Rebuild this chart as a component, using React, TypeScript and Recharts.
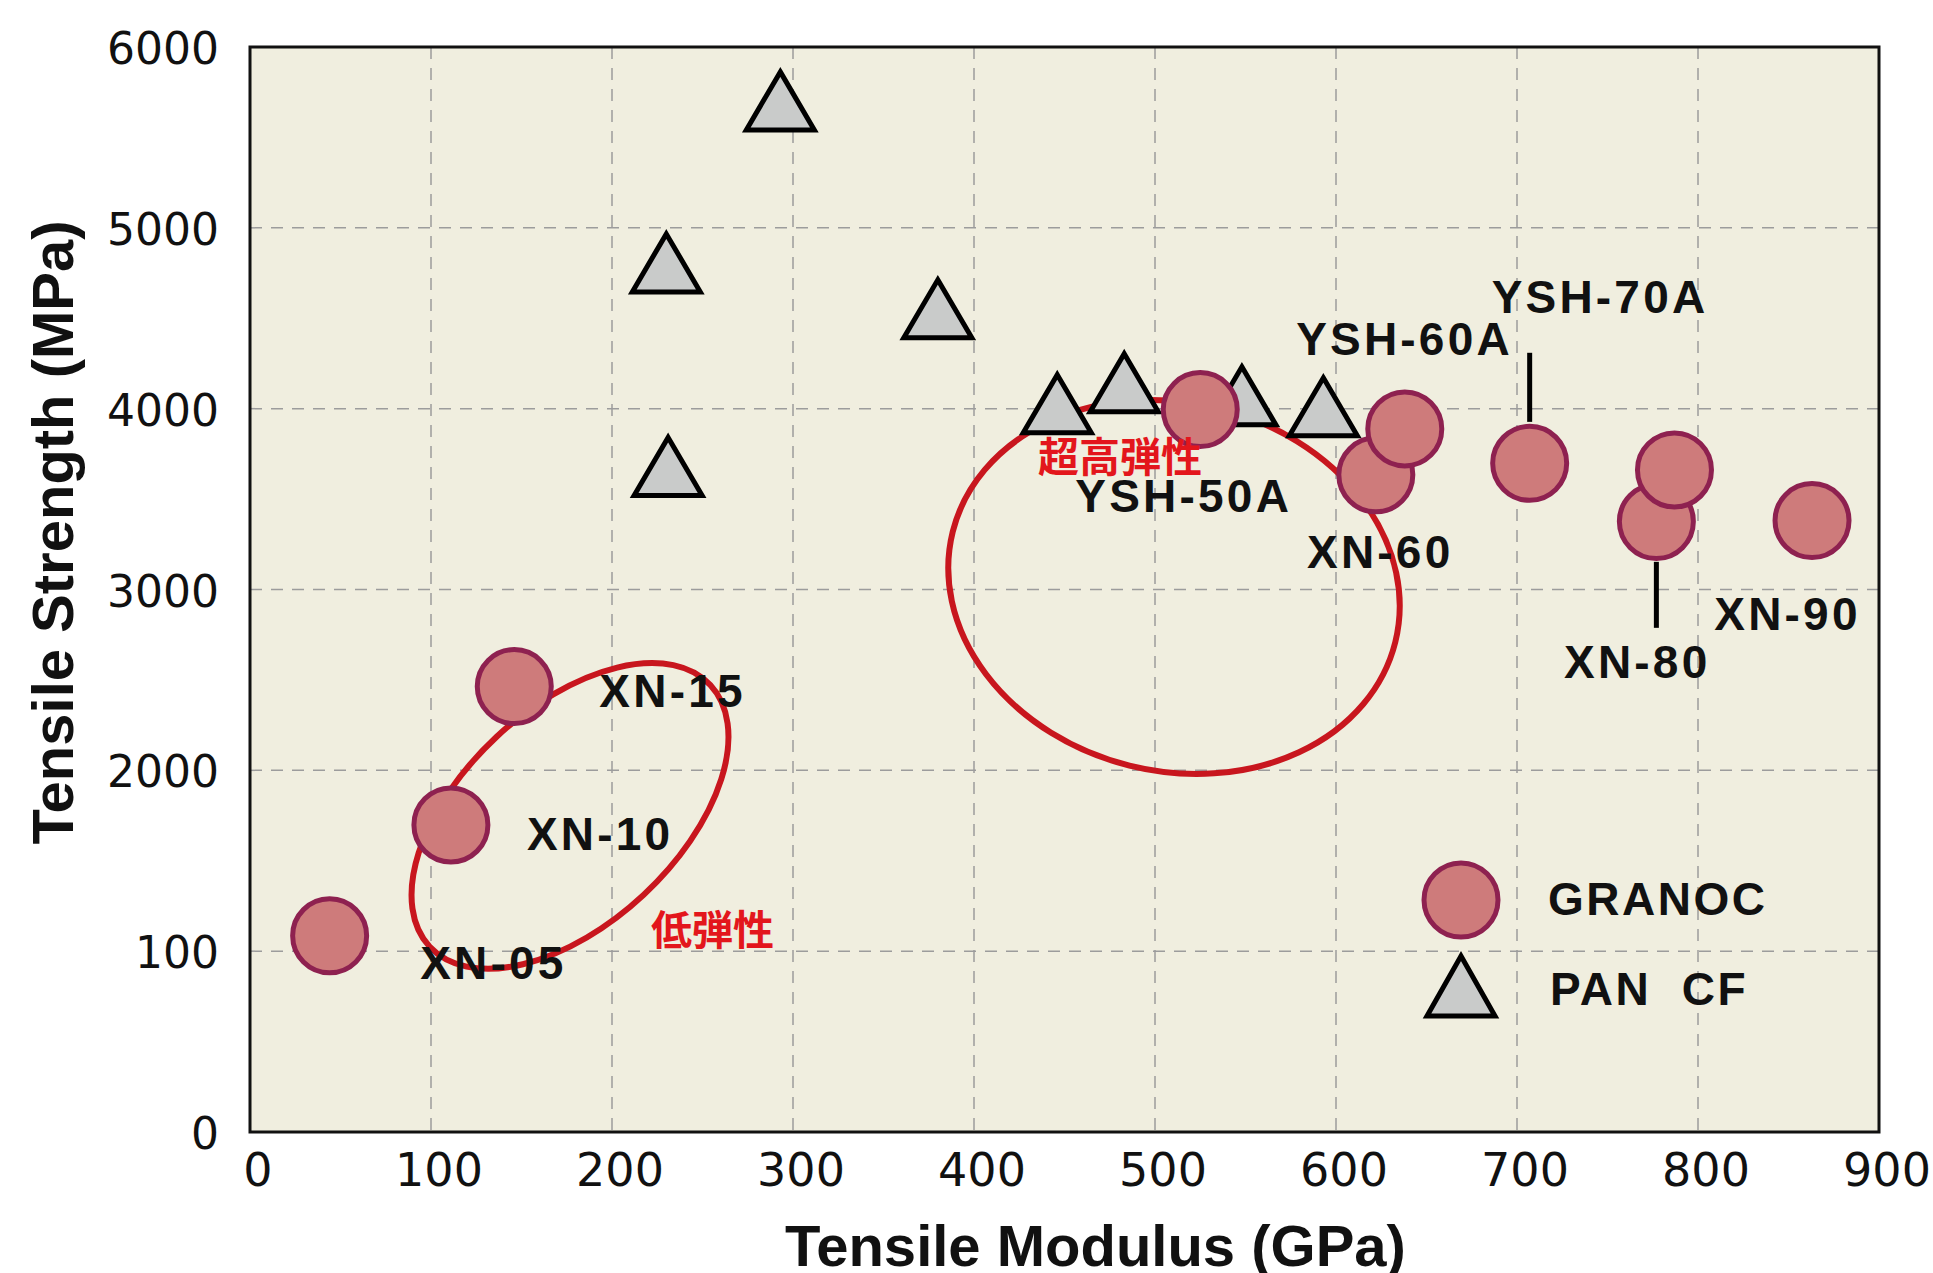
import React from "react";
import {
  CartesianGrid,
  Label,
  Legend,
  ReferenceArea,
  ReferenceLine,
  Scatter,
  ScatterChart,
  XAxis,
  YAxis
} from "recharts";

// GRANOC pitch fibres: tensile modulus (GPa) / tensile strength (MPa)
const granocModulus = [44, 111, 146, 525, 622, 638, 707, 777, 787, 863];
const granocStrength = [1085, 1698, 2463, 3995, 3634, 3888, 3698, 3376, 3661, 3381];

// PAN carbon fibres
const panModulus = [293, 230, 231, 380, 446, 483, 548, 593];
const panStrength = [5702, 4806, 3680, 4552, 4027, 4143, 4071, 4010];

const xTicks = [0, 100, 200, 300, 400, 500, 600, 700, 800, 900];
const yTicks = [0, 1000, 2000, 3000, 4000, 5000, 6000];
const yTickLabels = ["0", "100", "2000", "3000", "4000", "5000", "6000"];

// grade labels, anchored in data units (left / baseline)
const gradeNames = ["XN-05", "XN-10", "XN-15", "YSH-50A", "XN-60", "YSH-60A", "YSH-70A", "XN-80", "XN-90"];
const gradeLabelX = [94, 153, 193, 456, 584, 578, 686, 726, 809];
const gradeLabelY = [846, 1560, 2351, 3429, 3119, 4298, 4530, 2511, 2777];

const regionNames = ["低弾性", "超高弾性"];
const regionLabelX = [221.5, 435.4];
const regionLabelY = [1034, 3650];

// red rings round the two groups
const ringCenterX = [176.8, 510.5];
const ringCenterY = [1748, 3014];
const ringHalfX = [106, 126];
const ringHalfY = [597, 1018];
const ringTilt = [-43, 14];

// leader lines under/over labels
const leaderX = [707, 777];
const leaderTop = [4309, 3153];
const leaderBottom = [3927, 2788];

const granocData = granocModulus.map((x, i) => ({ x, y: granocStrength[i] }));
const panData = panModulus.map((x, i) => ({ x, y: panStrength[i] }));
const gradeData = gradeNames.map((name, i) => ({ x: gradeLabelX[i], y: gradeLabelY[i], name }));
const regionData = regionNames.map((name, i) => ({ x: regionLabelX[i], y: regionLabelY[i], name }));

const CIRCLE_FILL = "#CE7B7B";
const CIRCLE_STROKE = "#8E2150";
const TRI_FILL = "#C9CBCA";
const RING = "#C8161E";
const TEXT_FONT = "'Liberation Sans', Arial, sans-serif";
const TICK_FONT = "'DejaVu Sans', sans-serif";

const Circle = (p: any) => (
  <circle cx={p.cx} cy={p.cy} r={37} fill={CIRCLE_FILL} stroke={CIRCLE_STROKE} strokeWidth={5} />
);

const Triangle = (p: any) => {
  const { cx, cy } = p;
  return (
    <polygon
      points={`${cx},${cy - 29} ${cx + 34},${cy + 29} ${cx - 34},${cy + 29}`}
      fill={TRI_FILL}
      stroke="#000"
      strokeWidth={5}
    />
  );
};

const GradeText = (p: any) => (
  <text x={p.cx} y={p.cy} fontFamily={TEXT_FONT} fontWeight="bold" fontSize={46} letterSpacing={3.2} fill="#111">
    {p.payload.name}
  </text>
);

const RegionText = (p: any) => (
  <text x={p.cx} y={p.cy} fontFamily="'Noto Sans CJK JP', sans-serif" fontWeight="bold" fontSize={41} fill="#E3161C">
    {p.payload.name}
  </text>
);

const makeRing = (tilt: number) => (p: any) => {
  const cx = p.x + p.width / 2;
  const cy = p.y + p.height / 2;
  return (
    <ellipse
      cx={cx}
      cy={cy}
      rx={Math.abs(p.width) / 2}
      ry={Math.abs(p.height) / 2}
      transform={`rotate(${tilt} ${cx} ${cy})`}
      fill="none"
      stroke={RING}
      strokeWidth={6}
    />
  );
};

const YTick = (p: any) => {
  const i = yTicks.indexOf(p.payload.value);
  return (
    <text x={p.x - 31} y={p.y + 17} textAnchor="end" fontFamily={TICK_FONT} fontSize={44} fill="#111">
      {yTickLabels[i]}
    </text>
  );
};

const XTick = (p: any) => (
  <text x={p.x + 8} y={p.y + 54} textAnchor="middle" fontFamily={TICK_FONT} fontSize={46} fill="#111">
    {p.payload.value}
  </text>
);

const LegendBox = () => (
  <svg width={420} height={200}>
    <circle cx={61} cy={50} r={37} fill={CIRCLE_FILL} stroke={CIRCLE_STROKE} strokeWidth={5} />
    <text x={148} y={65} fontFamily={TEXT_FONT} fontWeight="bold" fontSize={46} letterSpacing={2.5} fill="#111">
      GRANOC
    </text>
    <polygon points="61,106 95,166 27,166" fill={TRI_FILL} stroke="#000" strokeWidth={5} />
    <text x={150} y={155} fontFamily={TEXT_FONT} fontWeight="bold" fontSize={46} letterSpacing={2.5} fill="#111">
      {"PAN\u00a0\u00a0CF"}
    </text>
  </svg>
);

export default function App() {
  return (
    <div style={{ position: "absolute", left: 0, top: 0, width: 1933, height: 1273, background: "#fff" }}>
      <ScatterChart width={1933} height={1273} margin={{ top: 47, right: 54, left: 0, bottom: 0 }}>
        <CartesianGrid
          fill="#F0EEDF"
          stroke="#9C9C9C"
          strokeWidth={1.5}
          strokeDasharray="12 9"
          horizontalValues={yTicks}
          verticalValues={xTicks}
        />
        <XAxis
          type="number"
          dataKey="x"
          domain={[0, 900]}
          ticks={xTicks}
          height={141}
          tickSize={0}
          tickMargin={0}
          tickLine={false}
          axisLine={false}
          tick={<XTick />}
          interval={0}
        >
          <Label
            content={({ viewBox }: any) => (
              <text
                x={viewBox.x + viewBox.width / 2 + 31}
                y={viewBox.y + 134}
                textAnchor="middle"
                fontFamily={TEXT_FONT}
                fontWeight="bold"
                fontSize={58}
                fill="#111"
              >
                Tensile Modulus (GPa)
              </text>
            )}
          />
        </XAxis>
        <YAxis
          type="number"
          dataKey="y"
          domain={[0, 6000]}
          ticks={yTicks}
          width={250}
          tickSize={0}
          tickMargin={0}
          tickLine={false}
          axisLine={false}
          tick={<YTick />}
          interval={0}
        >
          <Label
            content={({ viewBox }: any) => {
              const cx = 73;
              const cy = viewBox.y + viewBox.height / 2 - 57;
              return (
                <text
                  x={cx}
                  y={cy}
                  transform={`rotate(-90 ${cx} ${cy})`}
                  textAnchor="middle"
                  fontFamily={TEXT_FONT}
                  fontWeight="bold"
                  fontSize={58}
                  fill="#111"
                >
                  Tensile Strength (MPa)
                </text>
              );
            }}
          />
        </YAxis>

        <Scatter name="PAN  CF" data={panData} shape={Triangle} isAnimationActive={false} />
        <Scatter name="GRANOC" data={granocData} shape={Circle} isAnimationActive={false} />
        <Scatter name="grades" data={gradeData} shape={GradeText} isAnimationActive={false} legendType="none" />

        {leaderX.map((x, i) => (
          <ReferenceLine
            key={`lead-${i}`}
            segment={[
              { x, y: leaderTop[i] },
              { x, y: leaderBottom[i] }
            ]}
            stroke="#000"
            strokeWidth={5}
            ifOverflow="visible"
          />
        ))}

        {ringCenterX.map((cx, i) => (
          <ReferenceArea
            key={`ring-${i}`}
            x1={cx - ringHalfX[i]}
            x2={cx + ringHalfX[i]}
            y1={ringCenterY[i] - ringHalfY[i]}
            y2={ringCenterY[i] + ringHalfY[i]}
            shape={makeRing(ringTilt[i])}
            ifOverflow="visible"
          />
        ))}

        <Scatter name="regions" data={regionData} shape={RegionText} isAnimationActive={false} legendType="none" />

        <ReferenceArea x1={0} x2={900} y1={0} y2={6000} fill="none" stroke="#111" strokeWidth={3} ifOverflow="visible" />

        <Legend
          layout="vertical"
          align="center"
          verticalAlign="middle"
          content={<LegendBox />}
          wrapperStyle={{ position: "absolute", left: 1400, top: 850, width: 420, height: 200 }}
        />
      </ScatterChart>
    </div>
  );
}
